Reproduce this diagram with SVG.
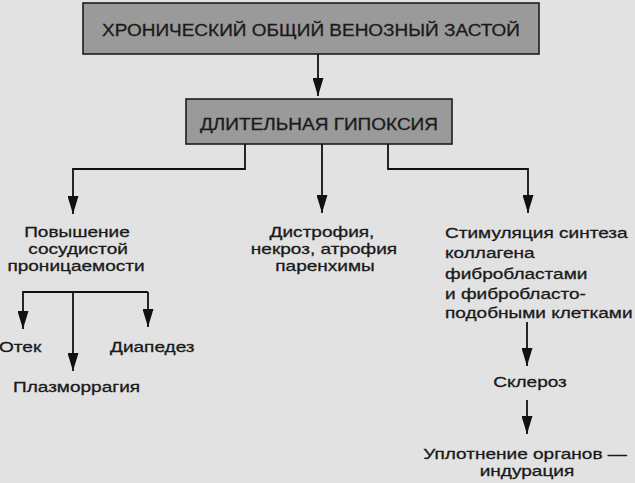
<svg xmlns="http://www.w3.org/2000/svg" width="635" height="483" viewBox="0 0 635 483">
<defs>
<marker id="ah" markerWidth="18" markerHeight="11" refX="18" refY="5.5" orient="auto" markerUnits="userSpaceOnUse" viewBox="0 0 18 11">
<path d="M0,0 L18,5.5 L0,11 Z" fill="#111"/>
</marker>
<style>
text{font-family:"Liberation Sans",Arial,sans-serif;fill:#1a1a1a;font-size:15px;stroke:#1a1a1a;stroke-width:0.3}
.box{fill:#9a9a9a;stroke:#1c1c1c;stroke-width:1.6}
.cap{font-size:17px}
.c{stroke:#111;stroke-width:1.8;fill:none}
.a{marker-end:url(#ah)}
.m{text-anchor:middle}
</style>
</defs>
<rect width="635" height="483" fill="#e2e2e2"/>
<g id="n-zastoy">
<rect class="box" x="83" y="3" width="456" height="51"/>
<text class="cap m" x="311" y="36" textLength="418" lengthAdjust="spacingAndGlyphs">ХРОНИЧЕСКИЙ ОБЩИЙ ВЕНОЗНЫЙ ЗАСТОЙ</text>
</g>
<g id="n-gipoksiya">
<rect class="box" x="186" y="99" width="266" height="45"/>
<text class="cap m" x="319" y="130" textLength="238" lengthAdjust="spacingAndGlyphs">ДЛИТЕЛЬНАЯ ГИПОКСИЯ</text>
</g>
<g id="n-pronits">
<text class="m" transform="translate(77 237) scale(1.27 1)">Повышение</text>
<text class="m" transform="translate(78 254) scale(1.27 1)">сосудистой</text>
<text class="m" transform="translate(76 271) scale(1.27 1)">проницаемости</text>
</g>
<g id="n-distrofiya">
<text class="m" transform="translate(322 237) scale(1.27 1)">Дистрофия,</text>
<text class="m" transform="translate(324 254) scale(1.27 1)">некроз, атрофия</text>
<text class="m" transform="translate(325 271) scale(1.27 1)">паренхимы</text>
</g>
<g id="n-stimul">
<text transform="translate(445 238) scale(1.27 1)">Стимуляция синтеза</text>
<text transform="translate(445 258) scale(1.27 1)">коллагена</text>
<text transform="translate(445 279) scale(1.27 1)">фибробластами</text>
<text transform="translate(445 299) scale(1.27 1)">и фибробласто-</text>
<text transform="translate(445 318) scale(1.27 1)">подобными клетками</text>
</g>
<g id="n-otek"><text transform="translate(-1 352) scale(1.27 1)">Отек</text></g>
<g id="n-diapedez"><text transform="translate(110 352) scale(1.27 1)">Диапедез</text></g>
<g id="n-plazmo"><text transform="translate(13 392) scale(1.27 1)">Плазморрагия</text></g>
<g id="n-skleroz"><text class="m" transform="translate(530 387) scale(1.27 1)">Склероз</text></g>
<g id="n-induratsiya">
<text class="m" transform="translate(525 459) scale(1.27 1)">Уплотнение органов —</text>
<text class="m" transform="translate(527 476) scale(1.27 1)">индурация</text>
</g>
<g id="connectors">
<path class="c a" d="M318,54 V96"/>
<path class="c a" d="M245,144 V169 H73 V214"/>
<path class="c a" d="M322,144 V213"/>
<path class="c a" d="M388,144 V169 H528 V213"/>
<path class="c a" d="M148,292 H23 V329"/>
<path class="c a" d="M148,292 V327"/>
<path class="c a" d="M73,292 V371"/>
<path class="c a" d="M527,322 V366"/>
<path class="c a" d="M527,400 V434"/>
</g>
</svg>
